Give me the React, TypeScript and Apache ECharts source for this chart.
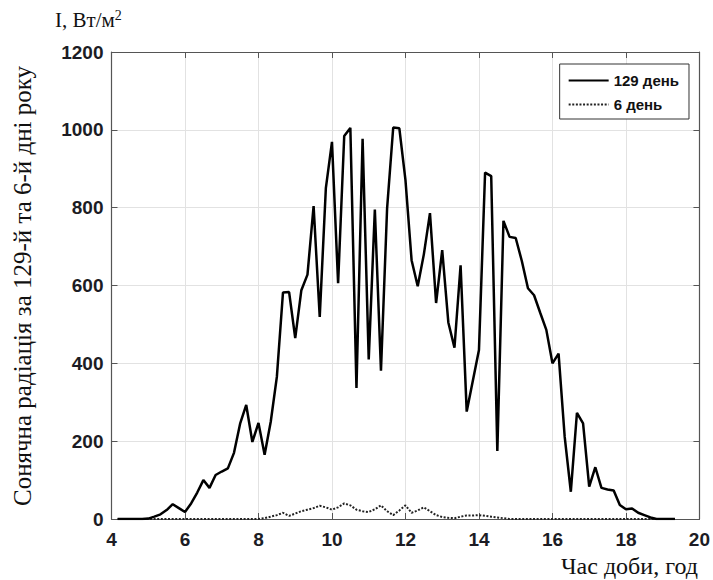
import React, { useEffect, useRef } from "react";
import * as echarts from "echarts";

const times = [
  "4:10", "4:20", "4:30", "4:40", "4:50", "5:00",
  "5:10", "5:20", "5:30", "5:40", "5:50", "6:00",
  "6:10", "6:20", "6:30", "6:40", "6:50", "7:00",
  "7:10", "7:20", "7:30", "7:40", "7:50", "8:00",
  "8:10", "8:20", "8:30", "8:40", "8:50", "9:00",
  "9:10", "9:20", "9:30", "9:40", "9:50", "10:00",
  "10:10", "10:20", "10:30", "10:40", "10:50", "11:00",
  "11:10", "11:20", "11:30", "11:40", "11:50", "12:00",
  "12:10", "12:20", "12:30", "12:40", "12:50", "13:00",
  "13:10", "13:20", "13:30", "13:40", "13:50", "14:00",
  "14:10", "14:20", "14:30", "14:40", "14:50", "15:00",
  "15:10", "15:20", "15:30", "15:40", "15:50", "16:00",
  "16:10", "16:20", "16:30", "16:40", "16:50", "17:00",
  "17:10", "17:20", "17:30", "17:40", "17:50", "18:00",
  "18:10", "18:20", "18:30", "18:40", "18:50", "19:00",
  "19:10", "19:20",
];

const day129 = [
  0, 0, 0, 0, 0, 1,
  6, 12, 23, 38, 28, 18,
  40, 68, 100, 80, 113, 122,
  130, 170, 245, 293, 198, 247,
  165, 250, 365, 582, 583, 465,
  588, 628, 804, 519, 850, 969,
  606, 984, 1005, 337, 977, 410,
  795, 381, 798, 1006, 1004, 871,
  665, 598, 680, 786, 555, 691,
  505, 440, 652, 276, 355, 434,
  890, 881, 175, 766, 725, 722,
  663, 593, 575, 530, 486, 400,
  425, 211, 70, 273, 246, 83,
  133, 80, 76, 73, 36, 25,
  27, 16, 10, 4, 0, 0,
  0, 0,
];

const day6 = [
  0, 0, 0, 0, 0, 0,
  0, 0, 0, 0, 0, 0,
  0, 0, 0, 0, 0, 0,
  0, 0, 0, 0, 0, 0,
  2, 6, 10, 16, 8, 14,
  20, 24, 28, 34, 30, 24,
  30, 40, 35, 24, 20, 18,
  25, 35, 20, 10, 22, 35,
  16, 22, 30, 20, 10, 5,
  3, 2, 6, 9, 9, 10,
  8, 6, 4, 2, 0, 0,
  0, 0, 0, 0, 0, 0,
  0, 0, 0, 0, 0, 0,
  0, 0, 0, 0, 0, 0,
  0, 0, 0, 0, 0, 0,
  0, 0,
];

const seriesNames = ["129 день", "6 день"];

export default function App() {
  const ref = useRef<HTMLDivElement>(null);
  useEffect(() => {
    const chart = echarts.init(ref.current!, null, { renderer: "svg" });
    const toH = (t: string) => {
      const [h, m] = t.split(":").map(Number);
      return h + m / 60;
    };
    const hours = times.map(toH);
    const s1 = hours.map((h, i) => [h, day129[i]]);
    const s2 = hours.map((h, i) => [h, day6[i]]);
    const axisColor = "#555";
    const labelStyle = {
      color: "#1c1c24",
      fontFamily: "Liberation Sans, Arial, sans-serif",
      fontWeight: "bold" as const,
      fontSize: 19,
      formatter: (v: number) => String(v),
    };
    const serif = "Liberation Serif, Times New Roman, serif";
    chart.setOption({
      animation: false,
      backgroundColor: "#fff",
      grid: { left: 111.5, right: 12, top: 52, bottom: 61, containLabel: false },
      legend: {
        orient: "vertical",
        right: 24,
        top: 64,
        backgroundColor: "#fff",
        borderColor: "#333",
        borderWidth: 1,
        padding: [9, 10, 7, 8],
        itemGap: 9,
        itemWidth: 40,
        itemHeight: 14,
        itemStyle: { opacity: 0 },
        textStyle: {
          color: "#111",
          fontFamily: "Liberation Sans, Arial, sans-serif",
          fontWeight: "bold",
          fontSize: 15,
        },
        data: seriesNames,
      },
      xAxis: [
        {
          type: "value",
          min: 4,
          max: 20,
          interval: 2,
          position: "bottom",
          axisLine: { show: true, onZero: false, lineStyle: { color: axisColor, width: 1.2 } },
          axisTick: { show: true, inside: true, length: 6, lineStyle: { color: axisColor } },
          axisLabel: { ...labelStyle, margin: 11 },
          splitLine: { show: true, lineStyle: { color: "#e2e2e2", width: 1 } },
        },
        {
          type: "value",
          min: 4,
          max: 20,
          interval: 2,
          position: "top",
          axisLine: { show: true, onZero: false, lineStyle: { color: axisColor, width: 1.2 } },
          axisTick: { show: true, inside: true, length: 6, lineStyle: { color: axisColor } },
          axisLabel: { show: false },
          splitLine: { show: false },
        },
      ],
      yAxis: [
        {
          type: "value",
          min: 0,
          max: 1200,
          interval: 200,
          position: "left",
          axisLine: { show: true, onZero: false, lineStyle: { color: axisColor, width: 1.2 } },
          axisTick: { show: true, inside: true, length: 6, lineStyle: { color: axisColor } },
          axisLabel: { ...labelStyle, margin: 8 },
          splitLine: { show: true, lineStyle: { color: "#e2e2e2", width: 1 } },
        },
        {
          type: "value",
          min: 0,
          max: 1200,
          interval: 200,
          position: "right",
          axisLine: { show: true, onZero: false, lineStyle: { color: axisColor, width: 1.2 } },
          axisTick: { show: true, inside: true, length: 6, lineStyle: { color: axisColor } },
          axisLabel: { show: false },
          splitLine: { show: false },
        },
      ],
      series: [
        {
          name: seriesNames[0],
          type: "line",
          data: s1,
          showSymbol: false,
          symbol: "none",
          lineStyle: { color: "#000", width: 2.5 },
          itemStyle: { color: "#000" },
          z: 3,
        },
        {
          name: seriesNames[1],
          type: "line",
          data: s2,
          showSymbol: false,
          symbol: "none",
          lineStyle: { color: "#222", width: 2, type: [2, 1.6] },
          itemStyle: { color: "#222" },
          z: 2,
        },
      ],
      graphic: [
        {
          type: "text",
          left: 55,
          top: 8,
          style: {
            text: "I, Вт/м{s|2}",
            fontFamily: serif,
            fontSize: 21,
            fill: "#111",
            rich: {
              s: {
                fontFamily: serif,
                fontSize: 14,
                fill: "#111",
                padding: [0, 0, 9, 0],
              },
            },
          },
        },
        {
          type: "text",
          x: 22,
          y: 286,
          rotation: Math.PI / 2,
          style: {
            text: "Сонячна радіація за 129-й та 6-й дні року",
            fontFamily: serif,
            fontSize: 25,
            fill: "#111",
            align: "center",
            verticalAlign: "middle",
          },
        },
        {
          type: "text",
          x: 561,
          y: 566,
          style: {
            text: "Час доби, год",
            fontFamily: serif,
            fontSize: 24,
            fill: "#111",
            verticalAlign: "middle",
          },
        },
      ],
    });
    return () => chart.dispose();
  }, []);
  return (
    <div
      ref={ref}
      style={{ position: "fixed", left: 0, top: 0, width: 713, height: 580, background: "#fff" }}
    />
  );
}
